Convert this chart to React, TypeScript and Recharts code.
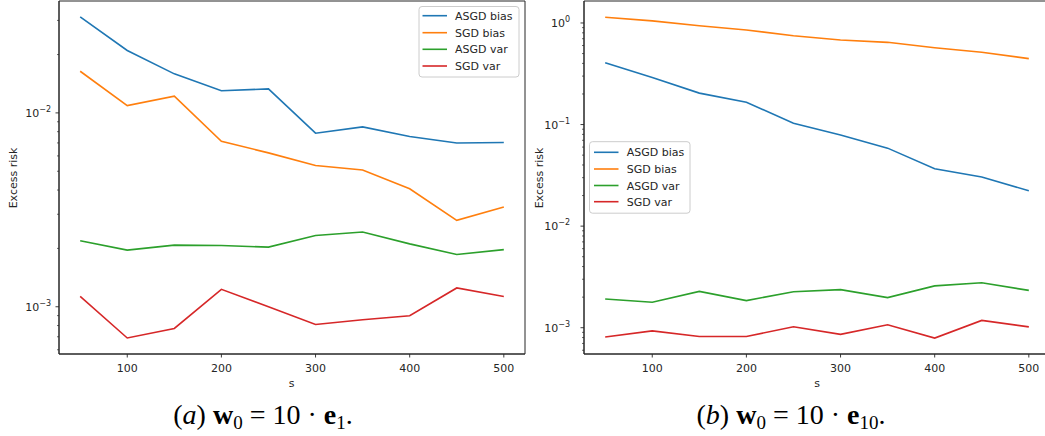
import React from "react";
import { LineChart, Line, XAxis, YAxis, ReferenceArea } from "recharts";

// s values shared by both panels
const sValues = [50, 100, 150, 200, 250, 300, 350, 400, 450, 500];

// panel (a): w0 = 10 * e1
const asgdBiasA = [0.0313, 0.021, 0.0159, 0.013, 0.0133, 0.00786, 0.00847, 0.00755, 0.007, 0.00703];
const sgdBiasA = [0.0164, 0.0109, 0.0122, 0.00714, 0.00622, 0.00535, 0.00508, 0.00406, 0.00279, 0.00327];
const asgdVarA = [0.00219, 0.00196, 0.00208, 0.00207, 0.00203, 0.00233, 0.00243, 0.00211, 0.00186, 0.00197];
const sgdVarA = [0.00113, 0.00069, 0.000773, 0.00123, 0.001, 0.00081, 0.000857, 0.000899, 0.00125, 0.00113];

// panel (b): w0 = 10 * e10
const asgdBiasB = [0.407, 0.29, 0.204, 0.166, 0.103, 0.079, 0.0586, 0.0367, 0.0304, 0.0223];
const sgdBiasB = [1.14, 1.05, 0.94, 0.853, 0.75, 0.68, 0.645, 0.571, 0.515, 0.446];
const asgdVarB = [0.00192, 0.00178, 0.00228, 0.00185, 0.00226, 0.00237, 0.00198, 0.00258, 0.00277, 0.00233];
const sgdVarB = [0.00081, 0.00093, 0.00082, 0.00082, 0.00102, 0.00086, 0.00107, 0.00079, 0.00118, 0.00102];

const xTicks = [100, 200, 300, 400, 500];
const yTicksA = [6e-4, 7e-4, 8e-4, 9e-4, 1e-3, 2e-3, 3e-3, 4e-3, 5e-3, 6e-3, 7e-3, 8e-3, 9e-3, 1e-2, 2e-2, 3e-2];
const yTicksB = [
  6e-4, 7e-4, 8e-4, 9e-4, 1e-3, 2e-3, 3e-3, 4e-3, 5e-3, 6e-3, 7e-3, 8e-3, 9e-3,
  1e-2, 2e-2, 3e-2, 4e-2, 5e-2, 6e-2, 7e-2, 8e-2, 9e-2,
  1e-1, 2e-1, 3e-1, 4e-1, 5e-1, 6e-1, 7e-1, 8e-1, 9e-1, 1,
];
const seriesNames = ["ASGD bias", "SGD bias", "ASGD var", "SGD var"];
const seriesColors = ["#1f77b4", "#ff7f0e", "#2ca02c", "#d62728"];

const FONT = "'DejaVu Sans', sans-serif";
const INK = "#262626";
const X_DOMAIN = [27.5, 522.5];

function toRows(a: number[], b: number[], c: number[], d: number[]) {
  return sValues.map((s, i) => ({ s, asgdBias: a[i], sgdBias: b[i], asgdVar: c[i], sgdVar: d[i] }));
}
const dataA = toRows(asgdBiasA, sgdBiasA, asgdVarA, sgdVarA);
const dataB = toRows(asgdBiasB, sgdBiasB, asgdVarB, sgdVarB);
const keys = ["asgdBias", "sgdBias", "asgdVar", "sgdVar"];

function XTick(props: any) {
  const { x, y, payload } = props;
  return (
    <g>
      <line x1={x} x2={x} y1={y} y2={y + 3.5} stroke={INK} strokeWidth={0.9} />
      <text x={x} y={y + 18} textAnchor="middle" fontFamily={FONT} fontSize={11} fill={INK}>
        {payload.value}
      </text>
    </g>
  );
}

function makeYTick(gap: number) {
  return function YTick(props: any) {
    const { x, y, payload } = props;
    const v = payload.value as number;
    const exp = Math.round(Math.log10(v));
    const major = Math.abs(Math.log10(v) - exp) < 1e-6;
    return (
      <g>
        <line x1={x} x2={x - (major ? 3.5 : 2)} y1={y} y2={y} stroke={INK} strokeWidth={major ? 0.9 : 0.7} />
        {major && (
          <text x={x - gap} y={y + 4} textAnchor="end" fontFamily={FONT} fontSize={11} fill={INK}>
            10
            <tspan fontSize={8} dy={-5}>
              {exp === 0 ? "0" : "\u2212" + Math.abs(exp)}
            </tspan>
          </text>
        )}
      </g>
    );
  };
}

function Panel({ data, domain, ticks, yWidth, marginLeft, gap }: {
  data: any[]; domain: number[]; ticks: number[]; yWidth: number; marginLeft: number; gap: number;
}) {
  return (
    <LineChart
      width={marginLeft + yWidth + 466 + 5}
      height={384}
      data={data}
      margin={{ top: 1, right: 5, bottom: 0, left: marginLeft }}
    >
      <XAxis
        dataKey="s"
        type="number"
        domain={X_DOMAIN}
        ticks={xTicks}
        interval={0}
        height={30}
        tickSize={0}
        tickMargin={0}
        tickLine={false}
        axisLine={{ stroke: INK, strokeWidth: 1 }}
        tick={<XTick />}
      />
      <YAxis
        type="number"
        scale="log"
        domain={domain}
        allowDataOverflow
        ticks={ticks}
        interval={0}
        width={yWidth}
        tickSize={0}
        tickMargin={0}
        tickLine={false}
        axisLine={{ stroke: INK, strokeWidth: 1 }}
        tick={makeYTick(gap)}
      />
      {/* axes frame (matplotlib spines) */}
      <ReferenceArea
        x1={X_DOMAIN[0]}
        x2={X_DOMAIN[1]}
        y1={domain[0]}
        y2={domain[1]}
        fill="none"
        stroke={INK}
        strokeWidth={1}
        ifOverflow="visible"
      />
      {keys.map((k, i) => (
        <Line key={k} dataKey={k} stroke={seriesColors[i]} strokeWidth={1.6} dot={false} isAnimationActive={false} />
      ))}
    </LineChart>
  );
}

function LegendBox({ x, y, w, h, lineX, textX, rows }: {
  x: number; y: number; w: number; h: number; lineX: number; textX: number; rows: number[];
}) {
  return (
    <g>
      <rect x={x} y={y} width={w} height={h} rx={3} fill="#fff" fillOpacity={0.8} stroke="#cccccc" strokeWidth={1} />
      {seriesNames.map((n, i) => (
        <g key={n}>
          <line x1={lineX} x2={lineX + 24.5} y1={rows[i]} y2={rows[i]} stroke={seriesColors[i]} strokeWidth={1.6} />
          <text x={textX} y={rows[i] + 4} fontFamily={FONT} fontSize={11} fill={INK}>{n}</text>
        </g>
      ))}
    </g>
  );
}

function Caption({ cx, label, sub }: { cx: number; label: string; sub: string }) {
  return (
    <text x={cx} y={424} textAnchor="middle" fontFamily="'Liberation Serif', serif" fontSize={28} fill="#000">
      (<tspan fontStyle="italic">{label}</tspan>){" "}
      <tspan fontWeight="bold">w</tspan>
      <tspan fontSize={19} dy={5}>0</tspan>
      <tspan dy={-5}>{" = 10 \u00b7 "}</tspan>
      <tspan fontWeight="bold">e</tspan>
      <tspan fontSize={19} dy={5}>{sub}</tspan>
      <tspan dy={-5}>.</tspan>
    </text>
  );
}

export default function App() {
  return (
    <div style={{ position: "absolute", left: 0, top: 0, width: 1045, height: 436, overflow: "hidden", background: "#fff" }}>
      <div style={{ position: "absolute", left: 0, top: 0 }}>
        <Panel data={dataA} domain={[0.0005705, 0.03778]} ticks={yTicksA} yWidth={46} marginLeft={13} gap={8} />
      </div>
      <div style={{ position: "absolute", left: 520, top: 0 }}>
        <Panel data={dataB} domain={[0.000551, 1.646]} ticks={yTicksB} yWidth={50} marginLeft={14} gap={14} />
      </div>
      <svg width={1045} height={436} style={{ position: "absolute", left: 0, top: 0, pointerEvents: "none" }}>
        <LegendBox x={419} y={6.5} w={100} h={70.5} lineX={422.5} textX={455} rows={[15.7, 32.7, 49.3, 66]} />
        <LegendBox x={589.5} y={141.7} w={100.5} h={71.5} lineX={594} textX={626.7} rows={[152.3, 169, 185.5, 201.7]} />
        <text x={291.5} y={387} textAnchor="middle" fontFamily={FONT} fontSize={11} fill={INK}>s</text>
        <text x={817} y={387} textAnchor="middle" fontFamily={FONT} fontSize={11} fill={INK}>s</text>
        <text transform="translate(17,178) rotate(-90)" textAnchor="middle" fontFamily={FONT} fontSize={11} fill={INK}>Excess risk</text>
        <text transform="translate(542.5,178) rotate(-90)" textAnchor="middle" fontFamily={FONT} fontSize={11} fill={INK}>Excess risk</text>
        <Caption cx={263} label="a" sub="1" />
        <Caption cx={791} label="b" sub="10" />
      </svg>
    </div>
  );
}
